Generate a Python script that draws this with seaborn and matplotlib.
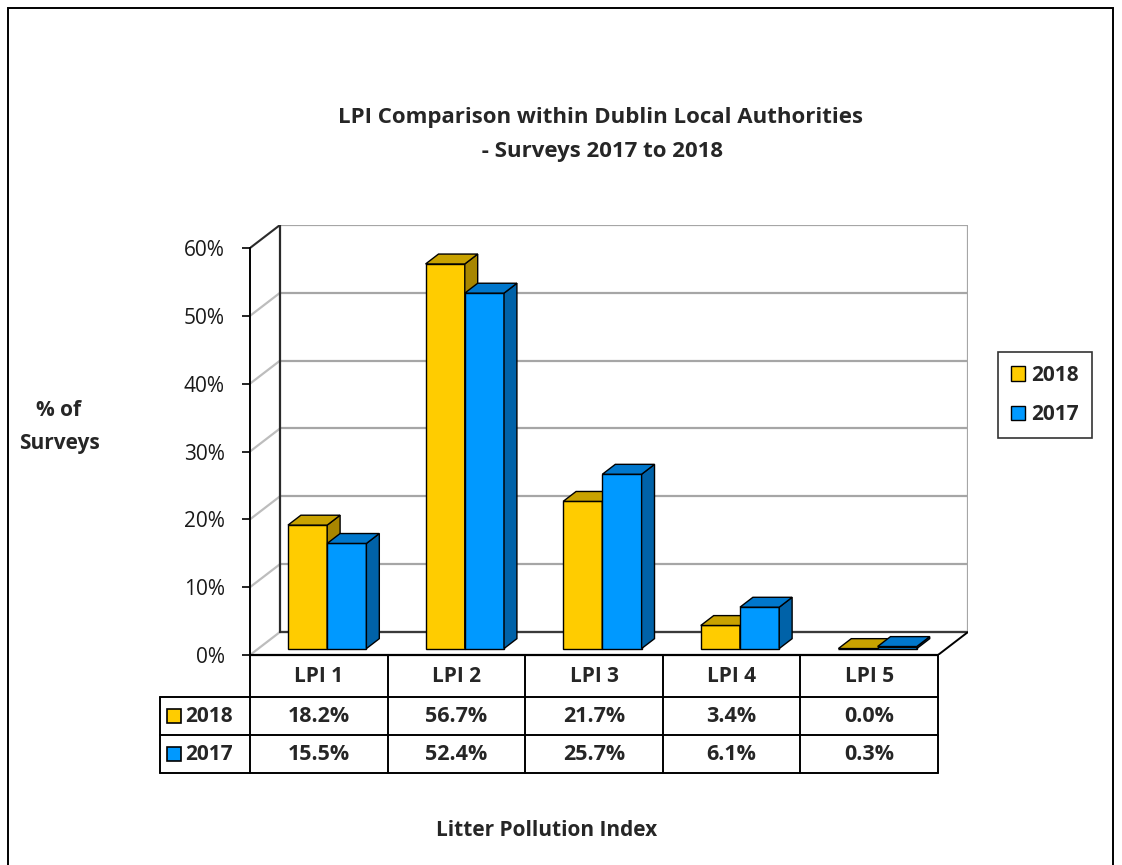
import numpy as np
import pandas as pd
import matplotlib
matplotlib.use("Agg")
import matplotlib.pyplot as plt
import seaborn as sns
from matplotlib.patches import Polygon, Rectangle, Patch

# chart data
categories = ["LPI 1", "LPI 2", "LPI 3", "LPI 4", "LPI 5"]
years = ["2018", "2017"]
pct_2018 = [18.2, 56.7, 21.7, 3.4, 0.0]
pct_2017 = [15.5, 52.4, 25.7, 6.1, 0.3]
y_ticks = [0, 10, 20, 30, 40, 50, 60]

front_colors = {"2018": "#FFCC00", "2017": "#0099FF"}
top_colors = {"2018": "#C9A200", "2017": "#0077CC"}
side_colors = {"2018": "#A88600", "2017": "#0062A8"}

df = pd.DataFrame({
    "LPI": categories * 2,
    "Year": ["2018"] * len(categories) + ["2017"] * len(categories),
    "pct": pct_2018 + pct_2017,
})

sns.set_theme(style="white")
plt.rcParams['font.family'] = ['Open Sans', 'DejaVu Sans']

W, H = 1122, 865
fig = plt.figure(figsize=(W / 100, H / 100), dpi=100)


def fbox(x0, y0, x1, y1):
    # pixel box (top-left origin) -> figure fraction
    return [x0 / W, 1 - y1 / H, (x1 - x0) / W, (y1 - y0) / H]


CAT_PX = 137.6
PX_PER_PCT = 6.78
DX = 30 / CAT_PX          # depth offset in category units
DY = 23 / PX_PER_PCT      # depth offset in percent units
F0 = 0.28                 # bar front position within depth
FD = 0.43                 # bar depth fraction
FS = 15                   # main text size

ax = fig.add_axes(fbox(250, 225, 250 + 5 * CAT_PX + 30, 655))
ax.patch.set_alpha(0)

sns.barplot(df, x="LPI", y="pct", hue="Year", hue_order=years,
            palette=front_colors, saturation=1, width=0.57, errorbar=None,
            edgecolor="black", linewidth=1, legend=False, ax=ax)

# walls and floor
grid_c = "#A6A6A6"
for v in y_ticks:
    ax.plot([-0.5 + DX, 4.5 + DX], [v + DY, v + DY], color=grid_c, lw=1.6, zorder=0.5)
    ax.plot([-0.5, -0.5 + DX], [v, v + DY], color="#BDBDBD", lw=1.6, zorder=0.5)
ax.plot([-0.5 + DX, 4.5 + DX], [DY, DY], color="#3A3A3A", lw=1.6, zorder=0.6)
ax.plot([-0.5 + DX] * 2, [DY, 60 + DY], color="#2A2A2A", lw=1.6, zorder=0.6)
ax.plot([4.5 + DX] * 2, [DY, 60 + DY], color=grid_c, lw=1.6, zorder=0.6)
ax.plot([-0.5, -0.5 + DX], [60, 60 + DY], color="#2A2A2A", lw=1.4, zorder=0.6)
ax.plot([-0.5, 4.5], [0, 0], color="black", lw=1.6, zorder=0.6, clip_on=False)
ax.plot([4.5, 4.5 + DX], [0, DY], color="black", lw=1.4, zorder=0.6)

# 3d faces for every bar
for p in list(ax.patches):
    w = p.get_width()
    h = p.get_height()
    xc = p.get_x() + w / 2
    cat = int(round(xc))
    j = 0 if xc < cat else 1
    yr = years[j]
    x0 = p.get_x() + F0 * DX
    y0 = F0 * DY
    p.set_x(x0)
    p.set_y(y0)
    z = 2 + cat * 2 + j
    p.set_zorder(z)
    ddx, ddy = FD * DX, FD * DY
    top = Polygon([(x0, y0 + h), (x0 + w, y0 + h), (x0 + w + ddx, y0 + h + ddy),
                   (x0 + ddx, y0 + h + ddy)], closed=True,
                  facecolor=top_colors[yr], edgecolor="black", lw=1, zorder=z)
    side = Polygon([(x0 + w, y0), (x0 + w, y0 + h), (x0 + w + ddx, y0 + h + ddy),
                    (x0 + w + ddx, y0 + ddy)], closed=True,
                   facecolor=side_colors[yr], edgecolor="black", lw=1, zorder=z)
    ax.add_patch(side)
    ax.add_patch(top)

ax.set_xlim(-0.5, 4.5 + DX)
ax.set_ylim(0, 60 + DY)
ax.set_xticks([])
ax.set_yticks(y_ticks)
ax.set_yticklabels([f"{v}%" for v in y_ticks])
ax.set_xlabel("")
ax.set_ylabel("")
for s in ["top", "right", "bottom"]:
    ax.spines[s].set_visible(False)
ax.spines["left"].set_color("black")
ax.spines["left"].set_linewidth(1.4)
ax.spines["left"].set_bounds(0, 60)
ax.tick_params(axis="y", left=True, direction="out", length=6, width=1.2,
               color="black", labelsize=FS, labelcolor="#1a1a1a", pad=12)

# data table
L = 90 / CAT_PX
tax = fig.add_axes(fbox(160, 655, 250 + 5 * CAT_PX, 773))
tax.set_xlim(-0.5 - L, 4.5)
tax.set_ylim(118, 0)
tax.axis("off")
lw_t = 1.4
for xb in np.arange(-0.5, 5.0, 1.0):
    tax.plot([xb, xb], [0, 118], color="black", lw=lw_t, clip_on=False)
tax.plot([-0.5 - L] * 2, [42, 118], color="black", lw=lw_t, clip_on=False)
for yb in [42, 80, 118]:
    tax.plot([-0.5 - L, 4.5], [yb, yb], color="black", lw=lw_t, clip_on=False)

for i, c in enumerate(categories):
    tax.text(i, 21, c, ha="center", va="center", fontsize=FS, fontweight="bold")
rows = [pct_2018, pct_2017]
for r, (yr, vals) in enumerate(zip(years, rows)):
    yc = 61 + 38 * r
    for i, v in enumerate(vals):
        tax.text(i, yc, f"{v:.1f}%", ha="center", va="center", fontsize=FS + 0.5, fontweight="bold")
    tax.plot([-0.5 - L + 14 / CAT_PX], [yc], marker="s", markersize=10.5,
             markerfacecolor=front_colors[yr], markeredgecolor="black", markeredgewidth=1.2)
    tax.text(-0.5 - L + 25 / CAT_PX, yc, yr, ha="left", va="center", fontsize=FS, fontweight="bold")

# legend
handles = [Patch(facecolor=front_colors[y], edgecolor="black", label=y) for y in years]
leg = fig.legend(handles=handles, loc="center", bbox_to_anchor=(1045 / W, 1 - 395 / H),
                 frameon=True, fancybox=False, edgecolor="black", handlelength=0.7,
                 handleheight=0.7, handletextpad=0.3, labelspacing=0.9,
                 prop={"size": FS, "weight": "bold"}, borderpad=0.6)
leg.get_frame().set_linewidth(1.2)

# titles and labels
fig.text(600 / W, 1 - 117 / H, "LPI Comparison within Dublin Local Authorities",
         ha="center", va="center", fontsize=FS + 1, fontweight="bold")
fig.text(600 / W, 1 - 152 / H, " - Surveys 2017 to 2018",
         ha="center", va="center", fontsize=FS + 1, fontweight="bold")
fig.text(59 / W, 1 - 410 / H, "% of", ha="center", va="center", fontsize=FS, fontweight="bold")
fig.text(59 / W, 1 - 443 / H, "Surveys", ha="center", va="center", fontsize=FS, fontweight="bold")
fig.text(547 / W, 1 - 830 / H, "Litter Pollution Index", ha="center", va="center",
         fontsize=FS, fontweight="bold")

# outer chart border
fig.patches.append(Rectangle((8 / W, -0.02), 1105 / W, 1 - 8 / H + 0.02,
                             transform=fig.transFigure, fill=False,
                             edgecolor="black", lw=1.4))

fig.savefig("out.png", dpi=100)
